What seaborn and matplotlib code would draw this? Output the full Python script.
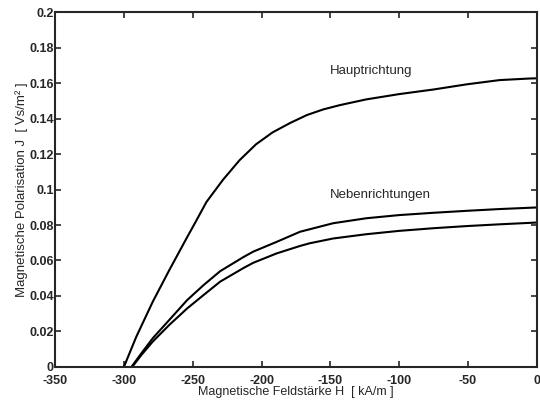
import numpy as np
import pandas as pd
import matplotlib
matplotlib.use("Agg")
import matplotlib.pyplot as plt
from matplotlib.ticker import FuncFormatter
import seaborn as sns

# values (H in kA/m, J in Vs/m^2)
haupt_h = [-300, -291, -279, -267, -254, -248, -240, -228, -216, -204, -192,
           -179, -167, -155, -143, -124, -100, -75, -51, -27, -5, 0]
haupt_j = [0.0, 0.017, 0.0368, 0.0546, 0.0732, 0.0816, 0.093, 0.1055,
           0.1165, 0.1255, 0.1322, 0.1376, 0.142, 0.1452, 0.1476, 0.1508,
           0.1538, 0.1564, 0.1593, 0.1617, 0.1626, 0.1627]

neben1_h = [-294.5, -287, -279, -267, -254, -242, -230, -213, -206, -189,
            -172, -165, -148, -124, -100, -75, -51, -27, -3, 0]
neben1_j = [0.0, 0.008, 0.0162, 0.0265, 0.0377, 0.0462, 0.054, 0.062, 0.065,
            0.0705, 0.0762, 0.0776, 0.081, 0.0838, 0.0856, 0.0869, 0.088,
            0.089, 0.0898, 0.0899]

neben2_h = [-294, -287, -279, -267, -254, -242, -230, -213, -206, -189,
            -172, -165, -148, -124, -100, -75, -51, -27, 0]
neben2_j = [0.0, 0.007, 0.0143, 0.0237, 0.033, 0.0406, 0.0481, 0.0558,
            0.0587, 0.064, 0.0682, 0.0697, 0.0724, 0.0748, 0.0767, 0.0782,
            0.0794, 0.0804, 0.0814]

x_ticks = [-350, -300, -250, -200, -150, -100, -50, 0]
y_ticks = [0, 0.02, 0.04, 0.06, 0.08, 0.1, 0.12, 0.14, 0.16, 0.18, 0.2]

df = pd.concat([
    pd.DataFrame({"H": haupt_h, "J": haupt_j, "kurve": "Hauptrichtung"}),
    pd.DataFrame({"H": neben1_h, "J": neben1_j, "kurve": "Neben 1"}),
    pd.DataFrame({"H": neben2_h, "J": neben2_j, "kurve": "Neben 2"}),
], ignore_index=True)

sns.set_style("ticks")
plt.rcParams['font.family'] = ['Liberation Sans', 'DejaVu Sans']
plt.rcParams['axes.unicode_minus'] = False

fig = plt.figure(figsize=(5.4, 4.05), dpi=100)
ax = fig.add_axes([0.102, 0.094, 0.892, 0.876])

sns.lineplot(data=df, x="H", y="J", units="kurve", estimator=None,
             color="black", linewidth=1.5, ax=ax)

ax.set_xlim(-350, 0)
ax.set_ylim(0, 0.2)
ax.set_xticks(x_ticks)
ax.set_yticks(y_ticks)
ax.yaxis.set_major_formatter(FuncFormatter(lambda v, p: f"{v:g}"))
ax.tick_params(direction="in", length=4, width=1.2, top=True, right=True,
               labelsize=9, pad=1)
ax.tick_params(axis="x", pad=6)
for lab in ax.get_xticklabels() + ax.get_yticklabels():
    lab.set_fontweight("bold")
for sp in ax.spines.values():
    sp.set_linewidth(1.5)
    sp.set_visible(True)

ax.set_xlabel("Magnetische Feldstärke H  [ kA/m ]", fontsize=9, labelpad=-1)
ax.set_ylabel("Magnetische Polarisation J  [ Vs/m² ]", fontsize=9.5, labelpad=1)

ax.text(-150, 0.1635, "Hauptrichtung", fontsize=9.5, ha="left", va="bottom")
ax.text(-150, 0.0935, "Nebenrichtungen", fontsize=9.5, ha="left", va="bottom")

fig.savefig("out.png", dpi=100)
